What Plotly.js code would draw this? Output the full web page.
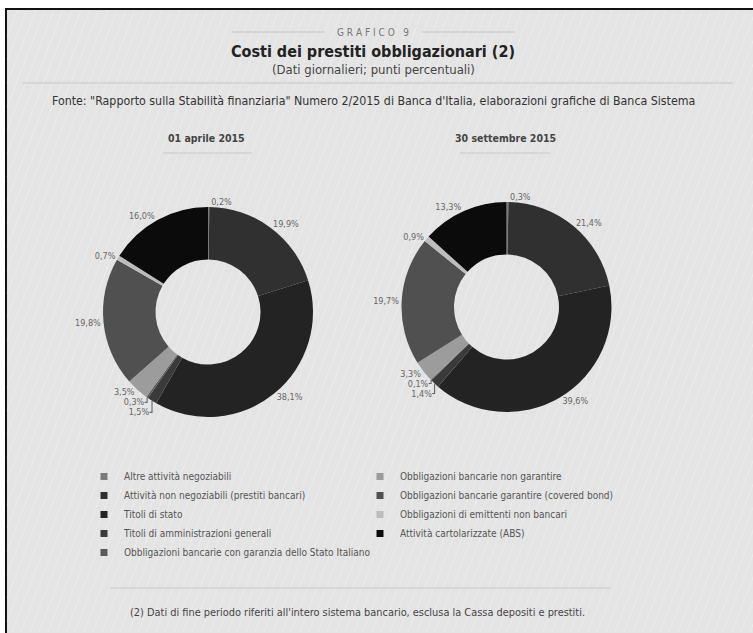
<!DOCTYPE html>
<html>
<head>
<meta charset="utf-8">
<script src="https://cdn.plot.ly/plotly-3.0.1.min.js"></script>
<style>
html,body{margin:0;padding:0;background:#fff;}
#chart{width:753px;height:633px;}
</style>
</head>
<body>
<div id="chart"></div>
<script>
// ---- data ----
const categories = [
  "Altre attività negoziabili",
  "Attività non negoziabili (prestiti bancari)",
  "Titoli di stato",
  "Titoli di amministrazioni generali",
  "Obbligazioni bancarie con garanzia dello Stato Italiano",
  "Obbligazioni bancarie non garantire",
  "Obbligazioni bancarie garantire (covered bond)",
  "Obbligazioni di emittenti non bancari",
  "Attività cartolarizzate (ABS)"
];
const valuesApril = [0.2, 19.9, 38.1, 1.5, 0.3, 3.5, 19.8, 0.7, 16.0];
const valuesSeptember = [0.3, 21.4, 39.6, 1.4, 0.1, 3.3, 19.7, 0.9, 13.3];
const sliceColors = ["#7a7a7a", "#303030", "#232323", "#3a3a3a", "#5a5a5a", "#9c9c9c", "#505050", "#bdbdbd", "#0b0b0b"];
const dateLabels = ["01 aprile 2015", "30 settembre 2015"];
const kicker = "G R A F I C O   9";
const titleText = "Costi dei prestiti obbligazionari (2)";
const subtitleText = "(Dati giornalieri; punti percentuali)";
const sourceText = 'Fonte: "Rapporto sulla Stabilità finanziaria" Numero 2/2015 di Banca d\'Italia, elaborazioni grafiche di Banca Sistema';
const noteText = "(2) Dati di fine periodo riferiti all'intero sistema bancario, esclusa la Cassa depositi e prestiti.";

// ---- helpers (pixel -> paper) ----
const W = 753, H = 633;
const px = x => x / W;
const py = y => 1 - y / H;
const FONT = "DejaVu Sans Condensed, Liberation Sans Narrow, Arial Narrow, sans-serif";

function pie(values, x0, x1, y0, y1) {
  return {
    type: "pie",
    labels: categories,
    values: values,
    sort: false,
    direction: "clockwise",
    rotation: 0,
    hole: 0.5,
    marker: {colors: sliceColors, line: {width: 0}},
    textposition: "outside",
    texttemplate: "%{value:.1f}%",
    textfont: {family: FONT, size: 9, color: "#666"},
    outsidetextfont: {family: FONT, size: 9, color: "#666"},
    showlegend: false,
    automargin: false,
    domain: {x: [px(x0), px(x1)], y: [py(y1), py(y0)]},
    hoverinfo: "label+percent"
  };
}

const traces = [
  pie(valuesApril, 103, 313, 207, 417),
  pie(valuesSeptember, 401.5, 611.5, 202, 412)
];

// legend-only entries (two columns)
categories.forEach((c, i) => {
  traces.push({
    type: "scatter", mode: "markers",
    x: [null], y: [null],
    name: c,
    marker: {symbol: "square", size: 7, color: sliceColors[i]},
    legend: i < 5 ? "legend" : "legend2",
    showlegend: true,
    hoverinfo: "skip"
  });
});

const legendBase = {
  font: {family: FONT, size: 10, color: "#555"},
  bgcolor: "rgba(0,0,0,0)",
  orientation: "v",
  xanchor: "left", yanchor: "top",
  itemwidth: 30,
  tracegroupgap: 0,
  itemclick: false, itemdoubleclick: false
};

// background frame + subtle diagonal texture
const shapes = [
  {type: "rect", xref: "paper", yref: "paper", x0: px(6), x1: px(760), y0: py(640), y1: py(9),
   fillcolor: "#e4e4e4", line: {color: "#111", width: 2}, layer: "below"}
];
for (let x = -240; x < 760; x += 9) {
  shapes.push({type: "line", xref: "paper", yref: "paper",
    x0: px(Math.max(x, 7)), y0: py(632 - (Math.max(x, 7) - x) * 2.6),
    x1: px(x + 240), y1: py(632 - 240 * 2.6 < 10 ? 10 : 632 - 240 * 2.6),
    line: {color: "rgba(255,255,255,0.28)", width: 1}, layer: "below"});
}
shapes.push(
  {type: "line", xref: "paper", yref: "paper", x0: px(232), x1: px(325), y0: py(32), y1: py(32), line: {color: "#c4c4c4", width: 1}},
  {type: "line", xref: "paper", yref: "paper", x0: px(422), x1: px(515), y0: py(32), y1: py(32), line: {color: "#c4c4c4", width: 1}},
  {type: "line", xref: "paper", yref: "paper", x0: px(22), x1: px(733), y0: py(83), y1: py(83), line: {color: "#c8c8c8", width: 1}},
  {type: "line", xref: "paper", yref: "paper", x0: px(163), x1: px(252), y0: py(153), y1: py(153), line: {color: "#c8c8c8", width: 1}},
  {type: "line", xref: "paper", yref: "paper", x0: px(460), x1: px(550), y0: py(153), y1: py(153), line: {color: "#c8c8c8", width: 1}},
  {type: "line", xref: "paper", yref: "paper", x0: px(110), x1: px(610), y0: py(588), y1: py(588), line: {color: "#c8c8c8", width: 1}}
);

function ann(text, x, y, size, color, extra) {
  return Object.assign({
    text: text, xref: "paper", yref: "paper", x: px(x), y: py(y),
    xanchor: "center", yanchor: "middle", showarrow: false,
    font: {family: FONT, size: size, color: color}
  }, extra || {});
}

const annotations = [
  ann(kicker, 373, 32, 10, "#777"),
  ann("<b>" + titleText + "</b>", 373, 51, 16, "#222"),
  ann(subtitleText, 373, 70, 13, "#444"),
  ann(sourceText, 373, 101, 12.3, "#333"),
  ann("<b>" + dateLabels[0] + "</b>", 207, 138, 10.5, "#444"),
  ann("<b>" + dateLabels[1] + "</b>", 506, 138, 10.5, "#444"),
  ann(noteText, 357, 612, 10.9, "#444")
];

const layout = {
  width: W, height: H,
  margin: {l: 0, r: 0, t: 0, b: 0},
  paper_bgcolor: "#ffffff",
  plot_bgcolor: "rgba(0,0,0,0)",
  separators: ",.",
  font: {family: FONT, color: "#555"},
  xaxis: {visible: false}, yaxis: {visible: false},
  legend: Object.assign({}, legendBase, {x: px(84), y: py(462)}),
  legend2: Object.assign({}, legendBase, {x: px(360), y: py(462)}),
  shapes: shapes,
  annotations: annotations,
  showlegend: true
};

Plotly.newPlot("chart", traces, layout, {staticPlot: true, displayModeBar: false});
</script>
</body>
</html>
